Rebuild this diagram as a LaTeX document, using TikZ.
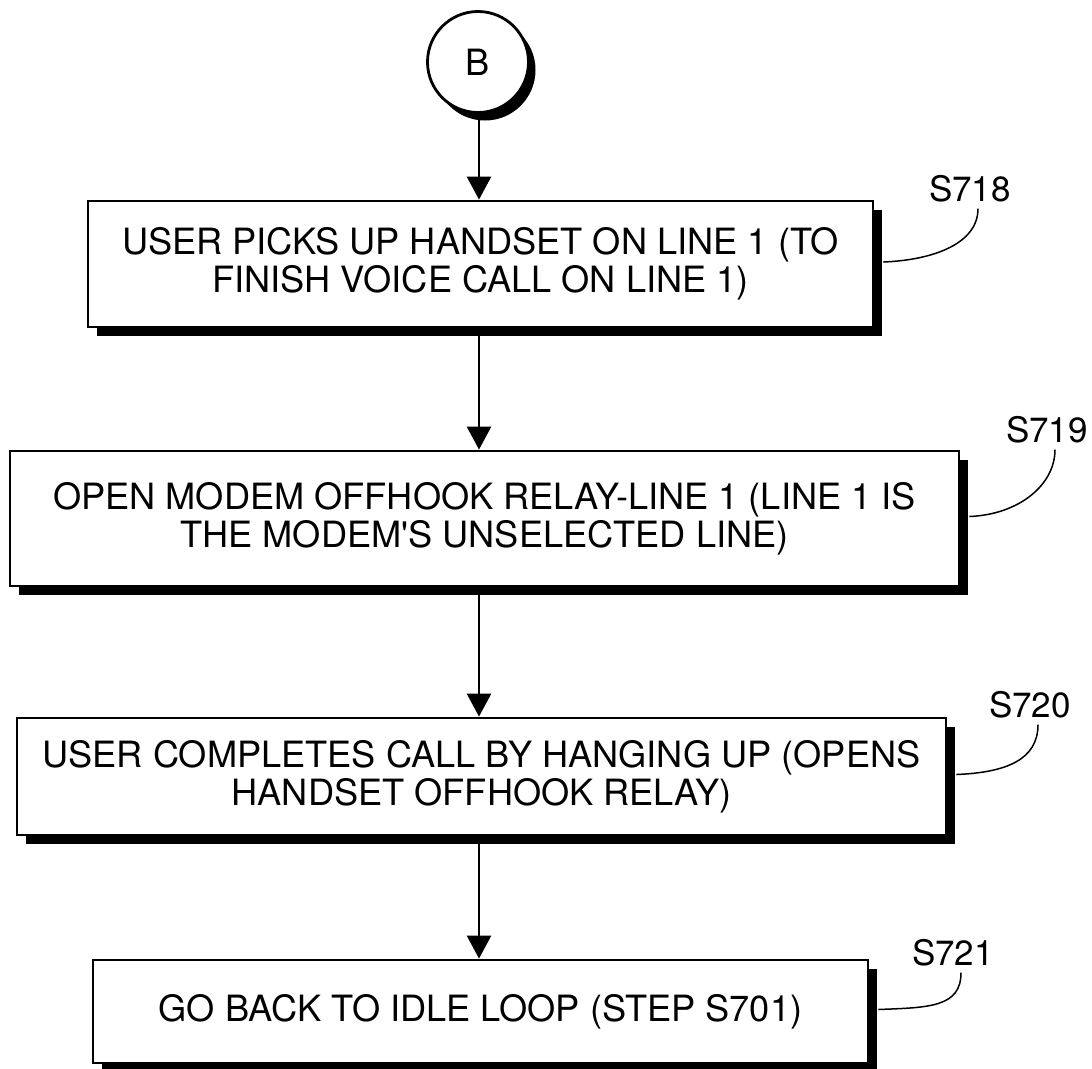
\documentclass[tikz,border=0pt]{standalone}
\usepackage{fontspec}
\newfontfamily\hvfont{TeX Gyre Heros}
\usetikzlibrary{shadows,arrows.meta,calc}
\begin{document}
\begin{tikzpicture}[x=1pt,y=-1pt,
  stepbox/.style={draw, line width=2.8pt, fill=white, align=center, inner sep=0pt,
    font=\hvfont\fontsize{36.2}{38}\selectfont,
    drop shadow={shadow xshift=9pt, shadow yshift=-9pt, fill=black, opacity=1}},
  connector/.style={draw, line width=2.8pt, circle, fill=white, minimum size=101pt, inner sep=0pt,
    font=\hvfont\fontsize{36.2}{38}\selectfont,
    drop shadow={shadow xshift=7pt, shadow yshift=-8pt, fill=black, opacity=1}},
  flow/.style={line width=2.6pt, -{Triangle[width=24pt,length=23pt]}},
  steplabel/.style={inner sep=0pt, font=\hvfont\fontsize{35}{40}\selectfont},
  leader/.style={line width=1.5pt}
]
\useasboundingbox (0,0) rectangle (1092,1068);

\node[connector] (B) at (478,62) {B};

\node[stepbox, minimum width=785pt, minimum height=126pt] (b1) at (480.5,264)
  {USER PICKS UP HANDSET ON LINE 1 (TO\\FINISH VOICE CALL ON LINE 1)};
\node[stepbox, minimum width=949pt, minimum height=135pt] (b2) at (484.5,518.5)
  {OPEN MODEM OFFHOOK RELAY-LINE 1 (LINE 1 IS\\THE MODEM'S UNSELECTED LINE)};
\node[stepbox, minimum width=929pt, minimum height=117pt] (b3) at (481.5,776.5)
  {USER COMPLETES CALL BY HANGING UP (OPENS\\HANDSET OFFHOOK RELAY)};
\node[stepbox, minimum width=775pt, minimum height=103pt] (b4) at (480.5,1011.5)
  {GO BACK TO IDLE LOOP (STEP S701)};

\node[steplabel] (l718) at (970,189) {S718};
\node[steplabel] (l719) at (1047,430) {S719};
\node[steplabel] (l720) at (1030,705) {S720};
\node[steplabel] (l721) at (953,953) {S721};

\draw[flow] (B.south -| 479,0) -- (b1.north -| 479,0);
\draw[flow] (b1.south -| 479,0) -- (b2.north -| 479,0);
\draw[flow] (b2.south -| 479,0) -- (b3.north -| 479,0);
\draw[flow] (b3.south -| 479,0) -- (b4.north -| 479,0);

\draw[leader] ([xshift=9pt,yshift=2pt]b1.east) .. controls +(50,-2) and +(0,35) .. ([xshift=8pt,yshift=-6pt]l718.south);
\draw[leader] ([xshift=9pt,yshift=2pt]b2.east) .. controls +(50,-2) and +(0,35) .. ([xshift=8pt,yshift=-6pt]l719.south);
\draw[leader] ([xshift=9pt,yshift=2pt]b3.east) .. controls +(50,-2) and +(0,35) .. ([xshift=8pt,yshift=-6pt]l720.south);
\draw[leader] ([xshift=9pt,yshift=2pt]b4.east) .. controls +(50,-2) and +(0,35) .. ([xshift=8pt,yshift=-6pt]l721.south);
\end{tikzpicture}
\end{document}
